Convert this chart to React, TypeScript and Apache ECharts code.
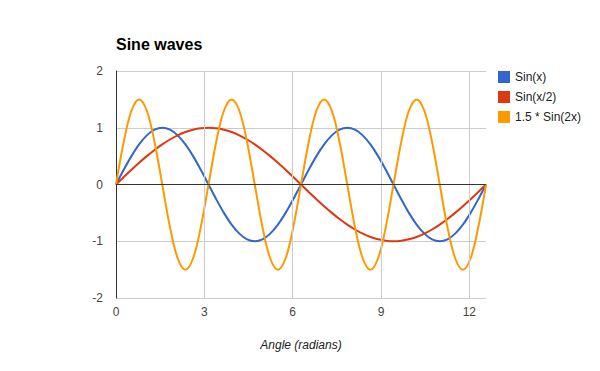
import React, { useEffect, useRef } from "react";
import * as echarts from "echarts";

const xValues = [
  0, 0.262, 0.524, 0.785, 1.047, 1.309, 1.571, 1.833, 2.094, 2.356, 2.618, 2.88, 3.142,
  3.403, 3.665, 3.927, 4.189, 4.451, 4.712, 4.974, 5.236, 5.498, 5.76, 6.021, 6.283,
  6.545, 6.807, 7.069, 7.33, 7.592, 7.854, 8.116, 8.378, 8.639, 8.901, 9.163, 9.425,
  9.687, 9.948, 10.21, 10.472, 10.734, 10.996, 11.257, 11.519, 11.781, 12.043, 12.305, 12.566,
];

const sinX = [
  0, 0.259, 0.5, 0.707, 0.866, 0.966, 1, 0.966, 0.866, 0.707, 0.5, 0.259, 0,
  -0.259, -0.5, -0.707, -0.866, -0.966, -1, -0.966, -0.866, -0.707, -0.5, -0.259, 0,
  0.259, 0.5, 0.707, 0.866, 0.966, 1, 0.966, 0.866, 0.707, 0.5, 0.259, 0,
  -0.259, -0.5, -0.707, -0.866, -0.966, -1, -0.966, -0.866, -0.707, -0.5, -0.259, 0,
];

const sinHalfX = [
  0, 0.131, 0.259, 0.383, 0.5, 0.609, 0.707, 0.793, 0.866, 0.924, 0.966, 0.991, 1,
  0.991, 0.966, 0.924, 0.866, 0.793, 0.707, 0.609, 0.5, 0.383, 0.259, 0.131, 0,
  -0.131, -0.259, -0.383, -0.5, -0.609, -0.707, -0.793, -0.866, -0.924, -0.966, -0.991, -1,
  -0.991, -0.966, -0.924, -0.866, -0.793, -0.707, -0.609, -0.5, -0.383, -0.259, -0.131, 0,
];

const sin2X = [
  0, 0.75, 1.299, 1.5, 1.299, 0.75, 0, -0.75, -1.299, -1.5, -1.299, -0.75, 0,
  0.75, 1.299, 1.5, 1.299, 0.75, 0, -0.75, -1.299, -1.5, -1.299, -0.75, 0,
  0.75, 1.299, 1.5, 1.299, 0.75, 0, -0.75, -1.299, -1.5, -1.299, -0.75, 0,
  0.75, 1.299, 1.5, 1.299, 0.75, 0, -0.75, -1.299, -1.5, -1.299, -0.75, 0,
];

const seriesNames = ["Sin(x)", "Sin(x/2)", "1.5 * Sin(2x)"];
const seriesColors = ["#3366cc", "#dc3912", "#ff9900"];
const xGridTicks = [3, 6, 9, 12];
const xMax = 12.566;

const FONT = "Arial, 'Liberation Sans', sans-serif";

export default function App() {
  const ref = useRef<HTMLDivElement>(null);
  useEffect(() => {
    if (!ref.current) return;
    const chart = echarts.init(ref.current, undefined, { renderer: "svg" });
    const allData = [sinX, sinHalfX, sin2X];
    chart.setOption({
      animation: false,
      backgroundColor: "#ffffff",
      textStyle: { fontFamily: FONT },
      title: {
        text: "Sine waves",
        left: 111,
        top: 31,
        textStyle: { fontFamily: FONT, fontSize: 16, fontWeight: "bold", color: "#000" },
      },
      legend: {
        orient: "vertical",
        left: 493,
        top: 66,
        itemWidth: 12,
        itemHeight: 12,
        itemGap: 8,
        icon: "rect",
        data: seriesNames,
        textStyle: { fontFamily: FONT, fontSize: 12, color: "#222", padding: [0, 0, 0, 0] },
      },
      grid: { left: 116, right: 114, top: 71, bottom: 73, containLabel: false },
      xAxis: {
        type: "value",
        min: 0,
        max: xMax,
        interval: 3,
        name: "Angle (radians)",
        nameLocation: "middle",
        nameGap: 41,
        nameTextStyle: { fontFamily: FONT, fontSize: 12, fontStyle: "italic", color: "#222" },
        axisLine: { show: false },
        axisTick: { show: false },
        splitLine: { show: false },
        axisLabel: {
          fontFamily: FONT,
          fontSize: 12,
          color: "#444",
          margin: 8,
          showMaxLabel: false,
          formatter: (v: number) => (Math.abs(v - Math.round(v)) < 1e-6 ? String(Math.round(v)) : ""),
        },
      },
      yAxis: {
        type: "value",
        min: -2,
        max: 2,
        interval: 1,
        axisLine: { show: true, lineStyle: { color: "#333", width: 1 } },
        axisTick: { show: false },
        splitLine: { show: true, lineStyle: { color: "#cccccc", width: 1 } },
        axisLabel: { fontFamily: FONT, fontSize: 12, color: "#444", margin: 13 },
      },
      series: [
        {
          type: "line",
          name: "__grid",
          data: [],
          z: 1,
          silent: true,
          markLine: {
            silent: true,
            symbol: "none",
            label: { show: false },
            animation: false,
            data: [
              ...xGridTicks.map((v) => ({ xAxis: v, lineStyle: { color: "#cccccc", width: 1, type: "solid" } })),
              { yAxis: 0, lineStyle: { color: "#333333", width: 1, type: "solid" } },
            ],
          },
        },
        ...seriesNames.map((name, i) => ({
          type: "line",
          name,
          z: 3,
          data: xValues.map((x, j) => [x, allData[i][j]]),
          smooth: 0.35,
          showSymbol: false,
          symbol: "none",
          lineStyle: { color: seriesColors[i], width: 2 },
          itemStyle: { color: seriesColors[i] },
        })),
      ],
    });
    return () => chart.dispose();
  }, []);
  return (
    <div
      ref={ref}
      style={{ position: "fixed", left: 0, top: 0, width: 600, height: 371 }}
    />
  );
}
